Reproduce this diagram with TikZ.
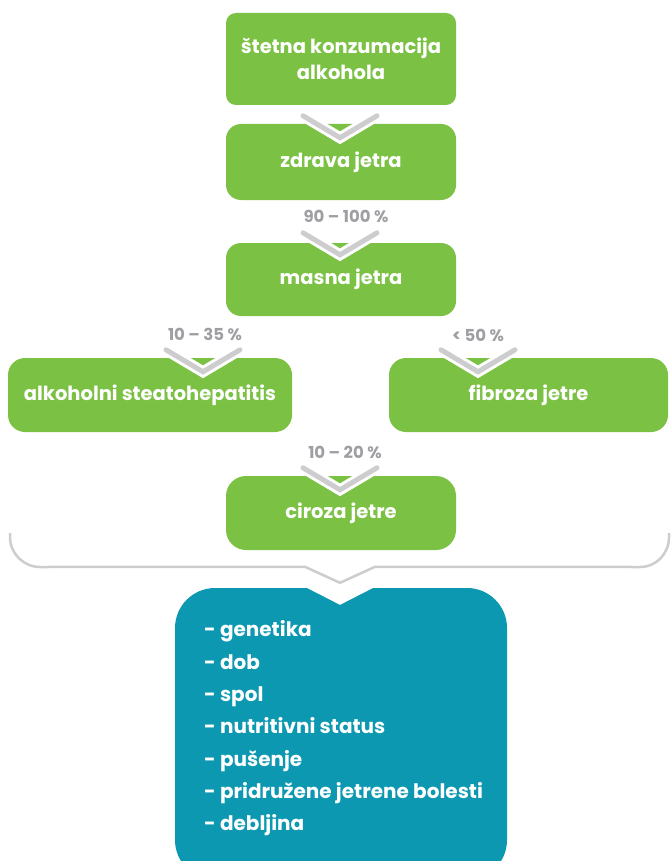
\documentclass[tikz,border=0pt]{standalone}
\usepackage{fontspec}
\setmainfont{Poppins}
\usetikzlibrary{calc}
\definecolor{grn}{RGB}{123,193,67}
\definecolor{tealbox}{RGB}{11,152,176}
\definecolor{chevgray}{RGB}{205,205,207}
\definecolor{lblgray}{RGB}{160,158,162}
\begin{document}
\begin{tikzpicture}[x=1pt,y=-1pt,
  gbox/.style={fill=grn, rounded corners=15pt, text=white, inner sep=0pt, align=center,
    font=\bfseries\fontsize{19.5}{26}\selectfont},
  pct/.style={text=lblgray, inner sep=0pt, font=\bfseries\fontsize{16.5}{18}\selectfont},
  pics/chev/.style={code={
    \draw[white, line width=11pt, line cap=round] (-37,-22) -- (0,0) -- (37,-22);
    \draw[chevgray, line width=5pt, line cap=round] (-37,-22) -- (0,0) -- (37,-22);}},
  bracketline/.style={draw=chevgray, line width=2.5pt},
  listtxt/.style={text=white, inner sep=0pt, align=left, anchor=west,
    font=\bfseries\fontsize{20}{32.3}\selectfont}
]
\useasboundingbox (0,0) rectangle (670,861);

% green boxes
\node[gbox, rounded corners=10pt, minimum width=230pt, minimum height=92pt] (b1) at (341,59)
  {štetna konzumacija\\alkohola};
\node[gbox, minimum width=230pt, minimum height=76pt] (b2) at (341,162) {zdrava jetra};
\node[gbox, minimum width=230pt, minimum height=73pt] (b3) at (341,279.5) {masna jetra};
\node[gbox, rounded corners=17pt, minimum width=284pt, minimum height=74pt] (bl) at (150,395) {alkoholni steatohepatitis};
\node[gbox, rounded corners=17pt, minimum width=279pt, minimum height=74pt] (br) at (528.5,395) {fibroza jetre};
\node[gbox, rounded corners=20pt, minimum width=230pt, minimum height=74pt] (b5) at (341,513) {ciroza jetre};

% percentage labels
\node[pct] (l1) at (346,216) {90 – 100 \%};
\node[pct] (l2) at (205,334) {10 – 35 \%};
\node[pct] (l3) at (478,335) {< 50 \%};
\node[pct] (l4) at (345,452) {10 – 20 \%};

% chevrons
\pic at ($(b2.north)+(-1,14)$) {chev};
\pic at ($(b3.north)+(-1,12)$) {chev};
\pic at ($(l2.center |- bl.north)+(-2,14)$) {chev};
\pic at ($(l3.center |- br.north)+(0,14)$) {chev};
\pic at ($(b5.north)+(-1,14)$) {chev};

% teal box
\node[fill=tealbox, rounded corners=40pt, minimum width=332pt, minimum height=292pt, inner sep=0pt] (fac) at (341,734) {};
\coordinate (apex) at ($(fac.north)+(-1,-5)$);
\fill[white] ($(apex)+(-43,0)$) -- ($(apex)+(0,22)$) -- ($(apex)+(43,0)$) -- cycle;
\node[listtxt] (lst) at (204,728.5) {- genetika\\- dob\\- spol\\- nutritivni status\\- pušenje\\- pridružene jetrene bolesti\\- debljina};

% bracket
\draw[bracketline] (10,533) -- (10,537) .. controls (10,553.5) and (23.5,567) .. (40,567)
  -- ($(apex)+(-35,-16)$) -- (apex) -- ($(apex)+(35,-16)$)
  -- (640,567) .. controls (656.5,567) and (669,553.5) .. (669,537) -- (669,533);
\end{tikzpicture}
\end{document}
